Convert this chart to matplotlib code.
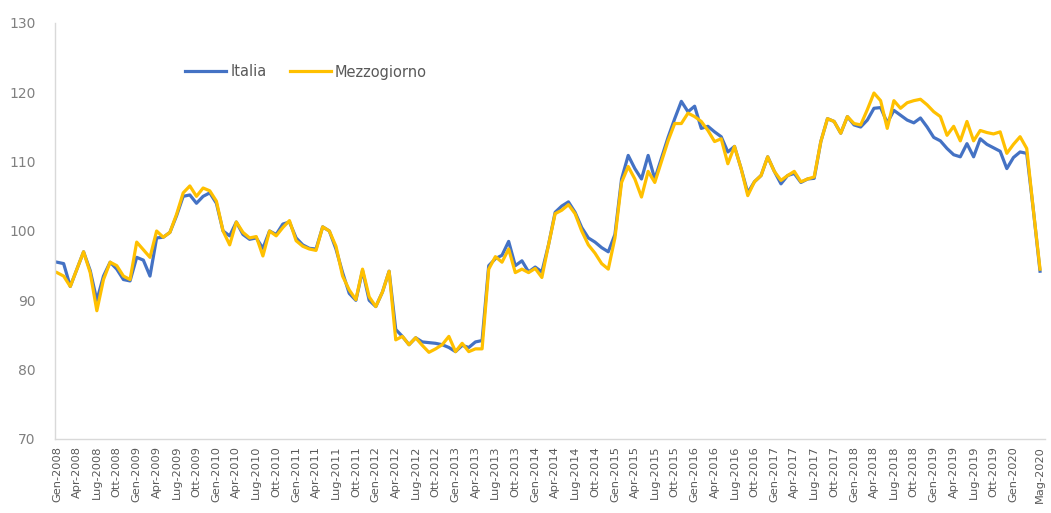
import matplotlib
matplotlib.use("Agg")
import matplotlib.pyplot as plt
import numpy as np

mesi = ["Gen", "Feb", "Mar", "Apr", "Mag", "Giu", "Lug", "Ago", "Set", "Ott", "Nov", "Dic"]
dates = [f"{mesi[m]}-{y}" for y in range(2008, 2021) for m in range(12)][:149]

italia = [
    95.5, 95.3, 92.0, 94.5, 97.0, 94.3, 90.0, 93.5, 95.5, 94.5, 93.0, 92.8,   # 2008
    96.2, 95.8, 93.5, 99.0, 99.1, 99.8, 102.2, 105.0, 105.2, 104.0, 105.0, 105.5,  # 2009
    104.0, 100.0, 99.3, 101.3, 99.5, 98.8, 99.0, 97.5, 100.0, 99.5, 101.0, 101.3,  # 2010
    99.0, 98.0, 97.5, 97.4, 100.6, 100.0, 97.4, 94.0, 91.0, 90.0, 94.3, 90.0,      # 2011
    89.1, 91.2, 94.2, 85.8, 84.8, 83.6, 84.6, 84.0, 83.9, 83.8, 83.6, 83.2,        # 2012
    82.6, 83.5, 83.2, 84.0, 84.2, 95.0, 96.0, 96.5, 98.5, 95.0, 95.7, 94.1,        # 2013
    94.8, 94.1, 98.0, 102.7, 103.6, 104.2, 102.7, 100.5, 99.0, 98.4, 97.6, 97.0,   # 2014
    99.5, 107.5, 110.9, 109.0, 107.5, 110.9, 107.5, 110.5, 113.5, 116.2, 118.7, 117.2,  # 2015
    118.0, 114.8, 115.1, 114.3, 113.6, 111.4, 112.2, 109.0, 105.5, 107.1, 108.0, 110.7,  # 2016
    108.6, 106.8, 108.0, 108.3, 107.0, 107.5, 107.6, 112.9, 116.2, 115.8, 114.1, 116.5,  # 2017
    115.3, 115.0, 116.0, 117.7, 117.8, 115.6, 117.4, 116.7, 116.0, 115.6, 116.3, 115.0,  # 2018
    113.5, 113.0, 111.9, 111.0, 110.7, 112.6, 110.7, 113.3, 112.5, 112.0, 111.5, 109.0,  # 2019
    110.6, 111.4, 111.2, 103.0, 94.2,                                                  # 2020
]

mezzogiorno = [
    94.0, 93.5, 92.0, 94.5, 97.0, 94.0, 88.5, 93.0, 95.5, 95.0, 93.5, 93.0,
    98.4, 97.3, 96.2, 100.0, 99.1, 99.8, 102.4, 105.5, 106.5, 105.0, 106.2, 105.8,
    104.3, 100.0, 98.0, 101.3, 99.8, 99.0, 99.2, 96.4, 100.0, 99.3, 100.5, 101.5,
    98.6, 97.8, 97.4, 97.2, 100.6, 100.0, 97.8, 93.5, 91.5, 90.1, 94.5, 90.5,
    89.1, 91.2, 94.2, 84.3, 84.8, 83.6, 84.6, 83.5, 82.5, 83.0, 83.6, 84.8,
    82.6, 83.8, 82.6, 83.0, 83.0, 94.5, 96.3, 95.5, 97.4, 94.0, 94.5, 94.0,
    94.6, 93.3, 98.0, 102.5, 103.0, 103.8, 102.5, 100.0, 98.0, 96.8, 95.3, 94.5,
    99.0, 107.0, 109.3, 107.5, 104.9, 108.6, 107.0, 110.0, 113.0, 115.5, 115.5, 117.0,
    116.5, 115.8, 114.5, 112.9, 113.3, 109.7, 112.2, 109.0, 105.1, 107.1, 108.0, 110.7,
    108.6, 107.3, 108.0, 108.6, 107.1, 107.5, 107.8, 112.9, 116.2, 115.8, 114.1, 116.5,
    115.5, 115.3, 117.5, 119.9, 118.8, 114.8, 118.8, 117.7, 118.5, 118.8, 119.0, 118.2,
    117.2, 116.5, 113.8, 115.1, 113.0, 115.8, 113.0, 114.5, 114.2, 114.0, 114.3, 111.2,
    112.5, 113.6, 111.9, 103.0, 94.5,
]

y_ticks = [70, 80, 90, 100, 110, 120, 130]

W, H = 1051, 513
fig = plt.figure(figsize=(W / 100, H / 100), dpi=100)
ax = fig.add_axes([55 / W, 1 - 439 / H, 990 / W, (439 - 23) / H])

x = np.arange(len(dates))
ax.plot(x, italia, color="#4472C4", lw=2.3, label="Italia", solid_joinstyle="round")
ax.plot(x, mezzogiorno, color="#FFC000", lw=2.3, label="Mezzogiorno", solid_joinstyle="round")

ax.set_xlim(-0.3, 148.75)
ax.set_ylim(70, 130)
ax.set_yticks(y_ticks)
ax.set_yticklabels([str(v) for v in y_ticks], color="#808080", fontsize=10)

tick_pos = list(range(0, 145, 3)) + [148]
ax.set_xticks(tick_pos)
ax.set_xticklabels([dates[i] for i in tick_pos], rotation=90, fontsize=8.2, color="#595959")
ax.tick_params(axis="both", length=0)
ax.tick_params(axis="y", pad=14)
ax.tick_params(axis="x", pad=5)

for s in ["top", "right"]:
    ax.spines[s].set_visible(False)
for s in ["left", "bottom"]:
    ax.spines[s].set_color("#d9d9d9")
    ax.spines[s].set_linewidth(1.0)

leg = fig.legend(loc="center left", bbox_to_anchor=(172 / W, 1 - 72 / H), ncol=2,
                 frameon=False, fontsize=10.5, handlelength=2.8, columnspacing=1.6,
                 handletextpad=0.3)
for t in leg.get_texts():
    t.set_color("#595959")

fig.savefig("out.png", dpi=100, facecolor="white")
